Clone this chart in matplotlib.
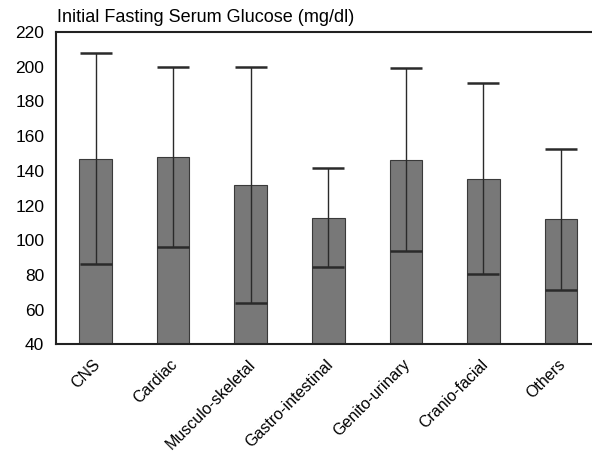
import matplotlib
matplotlib.use("Agg")
import matplotlib.pyplot as plt
import numpy as np

categories = ["CNS", "Cardiac", "Musculo-skeletal", "Gastro-intestinal",
              "Genito-urinary", "Cranio-facial", "Others"]
means = [147, 148, 132, 113, 146.5, 135.5, 112]
sds = [61, 52, 68, 28.5, 53, 55, 40.5]
yticks = [40, 60, 80, 100, 120, 140, 160, 180, 200, 220]

plt.rcParams['font.family'] = ['Liberation Sans', 'DejaVu Sans']

fig = plt.figure(figsize=(5.92, 4.51), dpi=100)
ax = fig.add_axes([56/592, (451-344.3)/451, 1 - 56/592, (344.3-32)/451])

x = np.arange(len(categories))
base = 40
ax.bar(x, np.array(means) - base, bottom=base, width=0.42,
       color='#787878', edgecolor='#3a3a3a', linewidth=0.8, zorder=2)
ax.errorbar(x, means, yerr=sds, fmt='none', ecolor='#2a2a2a',
            elinewidth=1.0, capsize=11.8, capthick=1.8, zorder=3)

ax.set_ylim(40, 220)
ax.set_xlim(-0.51, 6.40)
ax.set_yticks(yticks)
ax.set_yticklabels([str(v) for v in yticks], fontsize=12.5)
ax.set_xticks(x - 0.04)
ax.set_xticklabels(categories, rotation=45, ha='right', rotation_mode='anchor',
                   fontsize=11.5)
ax.tick_params(axis='both', length=0)
ax.tick_params(axis='y', pad=8.5)
ax.tick_params(axis='x', pad=9)
for s in ['left', 'top', 'bottom']:
    ax.spines[s].set_linewidth(1.5)
    ax.spines[s].set_color('#222222')
ax.spines['right'].set_visible(False)

fig.text(57/592, 1 - 17/451, "Initial Fasting Serum Glucose (mg/dl)",
         fontsize=13, va='center', ha='left')

fig.savefig("out.png", dpi=100)
